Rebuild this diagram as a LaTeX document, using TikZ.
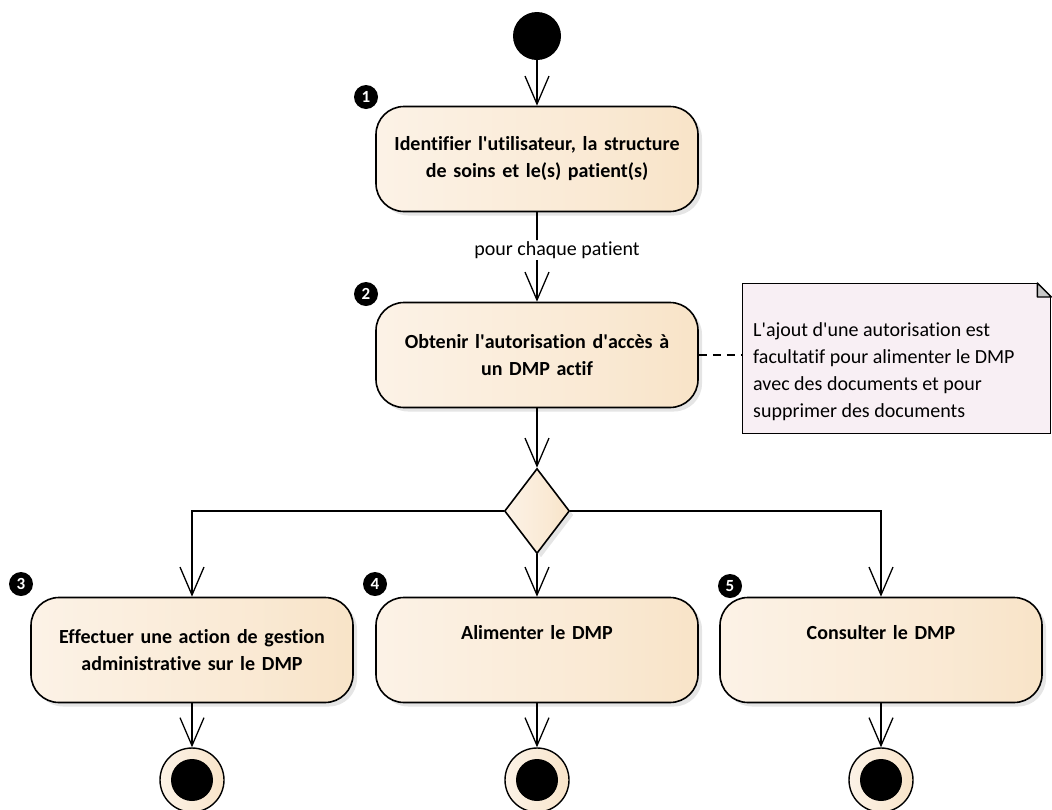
\documentclass[tikz,border=0pt]{standalone}
\usepackage{fontspec}
\setmainfont{Carlito}[Ligatures=NoCommon]
\usetikzlibrary{shapes.geometric, arrows.meta, shadows}
\definecolor{actL}{HTML}{F5DEC1}
\definecolor{actM}{HTML}{FCF3E8}
\definecolor{actR}{HTML}{F6DAB4}
\definecolor{notefill}{HTML}{F8EFF4}
\definecolor{foldgray}{HTML}{C9C9C9}
\pgfdeclarehorizontalshading{actgrad}{100bp}{color(0bp)=(actL); color(22bp)=(actM); color(60bp)=(actM!60!actR); color(100bp)=(actR)}
\newcommand{\apos}{\textquotesingle}
\tikzstyle{act} = [rectangle, rounded corners=28pt, draw=black, line width=1.6pt, minimum width=322pt, minimum height=105pt, text width=300pt, align=center, font=\bfseries\fontsize{20}{27}\selectfont, shading=actgrad, drop shadow={shadow xshift=4pt, shadow yshift=-4pt, fill=black!10, opacity=1}]
\tikzstyle{decision} = [diamond, draw=black, line width=1.6pt, minimum width=65pt, minimum height=85pt, inner sep=0pt, shading=actgrad, drop shadow={shadow xshift=4pt, shadow yshift=-4pt, fill=black!10, opacity=1}]
\tikzstyle{initial} = [circle, fill=black, minimum size=48pt, inner sep=0pt]
\tikzstyle{final} = [circle, draw=black, line width=1.4pt, minimum size=64pt, inner sep=0pt, shading=actgrad, path picture={\fill[black] (path picture bounding box.center) circle (21pt);}]
\tikzstyle{num} = [circle, fill=black, text=white, font=\bfseries\fontsize{17}{17}\selectfont, minimum size=24pt, inner sep=0pt]
\tikzstyle{arrow} = [line width=1.3pt, -{Straight Barb[length=28pt, width=24pt, line width=1.3pt]}]
\tikzstyle{notelink} = [line width=1.3pt, dash pattern=on 8pt off 6pt]

\begin{document}
\begin{tikzpicture}[x=1pt, y=-1pt]
		\useasboundingbox (0,0) rectangle (1052,809);
		\node (start) [initial] at (537,36) {};
		\node (ident) [act] at (537,159) {Identifier l\apos utilisateur, la structure\\de soins et le(s) patient(s)};
		\node (autor) [act] at (537,355) {Obtenir l\apos autorisation d\apos accès à\\un DMP actif};
		\node (dec) [decision] at (537,511) {};
		\node (gest) [act] at (192,650) {Effectuer une action de gestion\\administrative sur le DMP};
		\node (alim) [act] at (537,650) {Alimenter le DMP\\\strut};
		\node (consult) [act] at (881,650) {Consulter le DMP\\\strut};
		\node (fin1) [final] at (192,780) {};
		\node (fin2) [final] at (537,780) {};
		\node (fin3) [final] at (881,780) {};
		% note
		\node (note) [rectangle, draw=black, line width=1.4pt, fill=notefill, minimum width=308pt, minimum height=150pt, anchor=north west, inner sep=0pt] at (742,283) {};
		\fill[white] ([xshift=-14pt]note.north east) -- ([xshift=1pt,yshift=1pt]note.north east) -- ([yshift=-14pt]note.north east) -- cycle;
		\draw[line width=1.4pt, fill=foldgray, line join=round] ([xshift=-14pt]note.north east) -- ([yshift=-14pt]note.north east) -- ([xshift=-14pt,yshift=-14pt]note.north east) -- cycle;
		\node (notetext) [anchor=west, align=left, font=\fontsize{20}{27}\selectfont, inner sep=0pt] at (753,372) {L\apos ajout d\apos une autorisation est\\facultatif pour alimenter le DMP\\avec des documents et pour\\supprimer des documents};
		% numeros
		\node (n1) [num] at (366,97) {1};
		\node (n2) [num] at (366,294) {2};
		\node (n3) [num] at (21,584) {3};
		\node (n4) [num] at (375,584) {4};
		\node (n5) [num] at (730,586) {5};
		% liens
		\draw [arrow] (start) -- (ident);
		\draw [arrow] (ident) -- (autor);
		\node (each) [fill=white, inner xsep=2pt, inner ysep=1pt, font=\fontsize{20}{24}\selectfont] at (557,250) {pour chaque patient};
		\draw [arrow] (autor) -- (dec);
		\draw [notelink] (autor.east) -- (note.west |- autor.east);
		\draw [arrow] (dec.west) -| (gest.north);
		\draw [arrow] (dec.south) -- (alim.north);
		\draw [arrow] (dec.east) -| (consult.north);
		\draw [arrow] (gest) -- (fin1);
		\draw [arrow] (alim) -- (fin2);
		\draw [arrow] (consult) -- (fin3);
	\end{tikzpicture}
\end{document}
